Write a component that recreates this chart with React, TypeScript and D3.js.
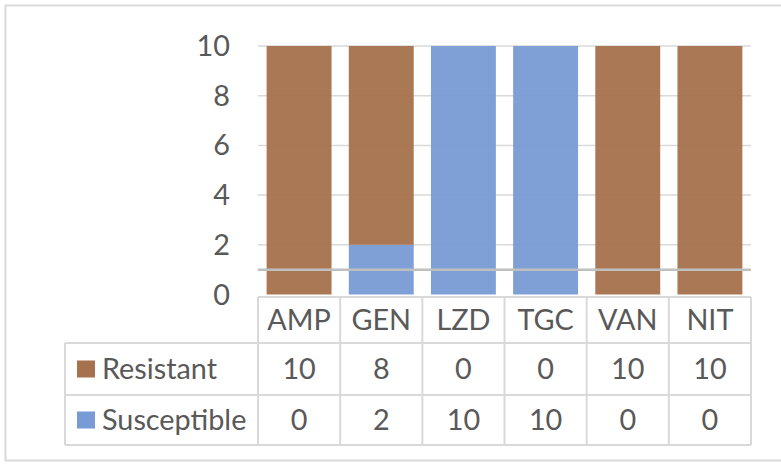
import React from "react";
import * as d3 from "d3";

// Antibiotic susceptibility counts per drug
const drugs = ["AMP", "GEN", "LZD", "TGC", "VAN", "NIT"];
const resistant = [10, 8, 0, 0, 10, 10];
const susceptible = [0, 2, 10, 10, 0, 0];
const seriesNames = ["Resistant", "Susceptible"];
const seriesColors = ["#A6714D", "#789BD5"];
const yTicks = [0, 2, 4, 6, 8, 10];
const referenceValue = 1;

const W = 781;
const H = 464;
const FONT = "Lato, 'Liberation Sans', sans-serif";
const TEXT = "#595959";
const GRID = "#D9D9D9";

export default function App() {
  const plotLeft = 258;
  const plotRight = 751;
  const x = d3.scaleBand<string>().domain(drugs).range([plotLeft, plotRight]).paddingInner(0.21).paddingOuter(0.105);
  const col = d3.scaleBand<string>().domain(drugs).range([plotLeft, plotRight]);
  const y = d3.scaleLinear().domain([0, 10]).range([294.5, 46]);

  const rows = drugs.map((d, i) => ({ drug: d, Resistant: resistant[i], Susceptible: susceptible[i] }));
  // Susceptible sits at the bottom, Resistant stacked on top
  const stack = d3.stack<any>().keys(["Susceptible", "Resistant"])(rows);

  const tableTop = 297;
  const headerBottom = 343;
  const rowBottoms = [395, 445];
  const tableLeft = 65;
  const rowValues = [resistant, susceptible];
  const fs = 28.8;

  return (
    <svg width={W} height={H} style={{ position: "absolute", left: 0, top: 0, display: "block", background: "#fff" }}>
      {/* chart frame */}
      <rect x={5.5} y={5.5} width={800} height={455} fill="#fff" stroke={GRID} strokeWidth={2} />

      {/* gridlines */}
      {yTicks.slice(1).map((t) => (
        <line key={t} x1={plotLeft} x2={plotRight} y1={y(t)} y2={y(t)} stroke={GRID} strokeWidth={1.5} />
      ))}

      {/* stacked bars */}
      {stack.map((layer) => (
        <g key={layer.key} fill={seriesColors[seriesNames.indexOf(layer.key)]} fillOpacity={0.95}>
          {layer.map((seg, i) =>
            seg[1] > seg[0] ? (
              <rect key={i} x={x(drugs[i])} width={x.bandwidth()} y={y(seg[1])} height={y(seg[0]) - y(seg[1])} />
            ) : null
          )}
        </g>
      ))}

      {/* reference line */}
      <line x1={plotLeft} x2={plotRight} y1={y(referenceValue)} y2={y(referenceValue)} stroke="#BFBFBF" strokeWidth={2.5} />

      {/* y axis labels */}
      {yTicks.map((t) => (
        <text key={t} x={230} y={y(t)} dy="0.35em" textAnchor="end" fontFamily={FONT} fontSize={fs} fill={TEXT}>
          {t}
        </text>
      ))}

      {/* data table */}
      <g stroke={GRID} strokeWidth={2} fill="none">
        <line x1={plotLeft} x2={plotRight} y1={tableTop} y2={tableTop} />
        <line x1={tableLeft} x2={plotRight} y1={headerBottom} y2={headerBottom} />
        {rowBottoms.map((b) => (
          <line key={b} x1={tableLeft} x2={plotRight} y1={b} y2={b} />
        ))}
        <line x1={tableLeft} x2={tableLeft} y1={headerBottom} y2={rowBottoms[1]} />
        {drugs.map((d) => (
          <line key={d} x1={col(d)} x2={col(d)} y1={tableTop} y2={rowBottoms[1]} />
        ))}
        <line x1={plotRight} x2={plotRight} y1={tableTop} y2={rowBottoms[1]} />
      </g>

      {drugs.map((d) => (
        <text key={d} x={col(d)! + col.bandwidth() / 2} y={(tableTop + headerBottom) / 2} dy="0.35em" textAnchor="middle" fontFamily={FONT} fontSize={fs} fill={TEXT}>
          {d}
        </text>
      ))}

      {seriesNames.map((name, r) => {
        const top = r === 0 ? headerBottom : rowBottoms[0];
        const bottom = rowBottoms[r];
        const cy = (top + bottom) / 2;
        return (
          <g key={name}>
            <rect x={77} y={cy - 8.5} width={18} height={17} fill={seriesColors[r]} />
            <text x={102} y={cy} dy="0.35em" fontFamily={FONT} fontSize={fs} fill={TEXT}>
              {name}
            </text>
            {drugs.map((d, i) => (
              <text key={d} x={col(d)! + col.bandwidth() / 2} y={cy} dy="0.35em" textAnchor="middle" fontFamily={FONT} fontSize={fs} fill={TEXT}>
                {rowValues[r][i]}
              </text>
            ))}
          </g>
        );
      })}
    </svg>
  );
}
